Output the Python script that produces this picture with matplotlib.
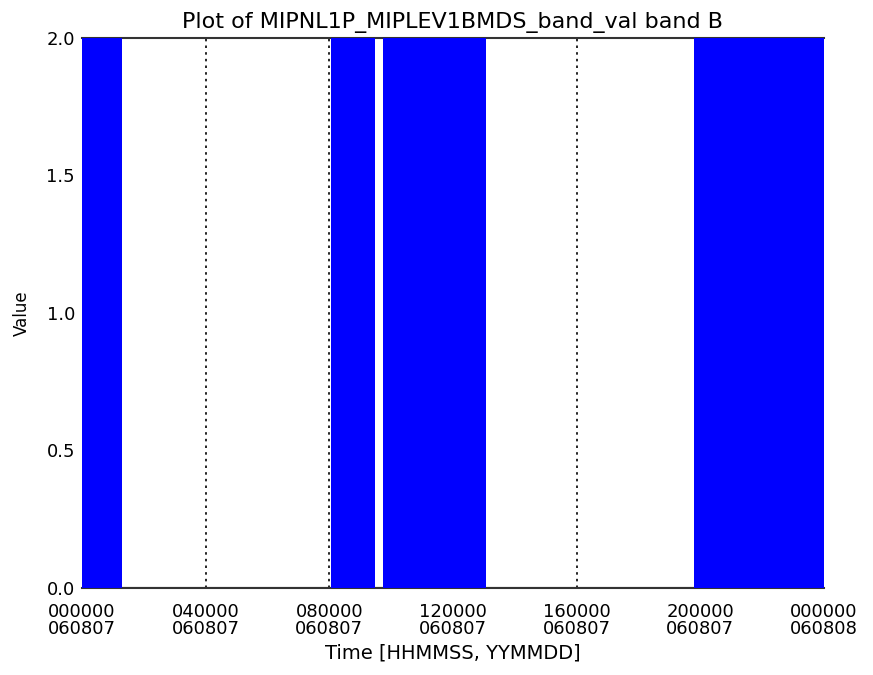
import matplotlib
matplotlib.use('Agg')
import matplotlib.pyplot as plt
import numpy as np

# blue (value = 2) periods, hours since 000000 060807
seg_start = [0.0, 8.05, 9.72, 19.79]
seg_end = [1.29, 9.48, 13.06, 24.0]
seg_value = [2.0, 2.0, 2.0, 2.0]

tick_hours = [0, 4, 8, 12, 16, 20, 24]
tick_labels = ['000000\n060807', '040000\n060807', '080000\n060807', '120000\n060807',
               '160000\n060807', '200000\n060807', '000000\n060808']
y_ticks = [0.0, 0.5, 1.0, 1.5, 2.0]

plt.rcParams['font.family'] = ['DejaVu Sans']

fig = plt.figure(figsize=(8.73, 6.75), dpi=100)
ax = fig.add_axes([0.0939, 0.1289, 0.85, 0.8148])

# dotted time grid
for h in tick_hours[1:-1]:
    ax.axvline(h, color='black', linestyle=(0, (1.5, 2.5)), linewidth=1.2, zorder=1)

# baseline at zero
ax.plot([0, 24], [0, 0], color='#333333', linewidth=1.5, zorder=2)

for s, e, v in zip(seg_start, seg_end, seg_value):
    t = np.array([s, e])
    ax.fill_between(t, 0, v, color='#0000ff', linewidth=0, zorder=3)

ax.set_xlim(0, 24)
ax.set_ylim(0, 2.0)
ax.set_xticks(tick_hours)
ax.set_xticklabels(tick_labels, fontsize=13, linespacing=0.9)
ax.set_yticks(y_ticks)
ax.set_yticklabels(['%.1f' % v for v in y_ticks], fontsize=13)
ax.tick_params(direction='in', length=0)
ax.tick_params(axis='x', pad=11)
ax.tick_params(axis='y', pad=5)

for sp in ax.spines.values():
    sp.set_color('#333333')
    sp.set_linewidth(1.5)
ax.spines['left'].set_visible(False)
ax.spines['right'].set_visible(False)

ax.set_title('Plot of MIPNL1P_MIPLEV1BMDS_band_val band B', fontsize=16, pad=7)
ax.set_xlabel('Time [HHMMSS, YYMMDD]', fontsize=14, labelpad=4)
ax.set_ylabel('Value', fontsize=12, labelpad=11)

fig.savefig('out.png', dpi=100)
